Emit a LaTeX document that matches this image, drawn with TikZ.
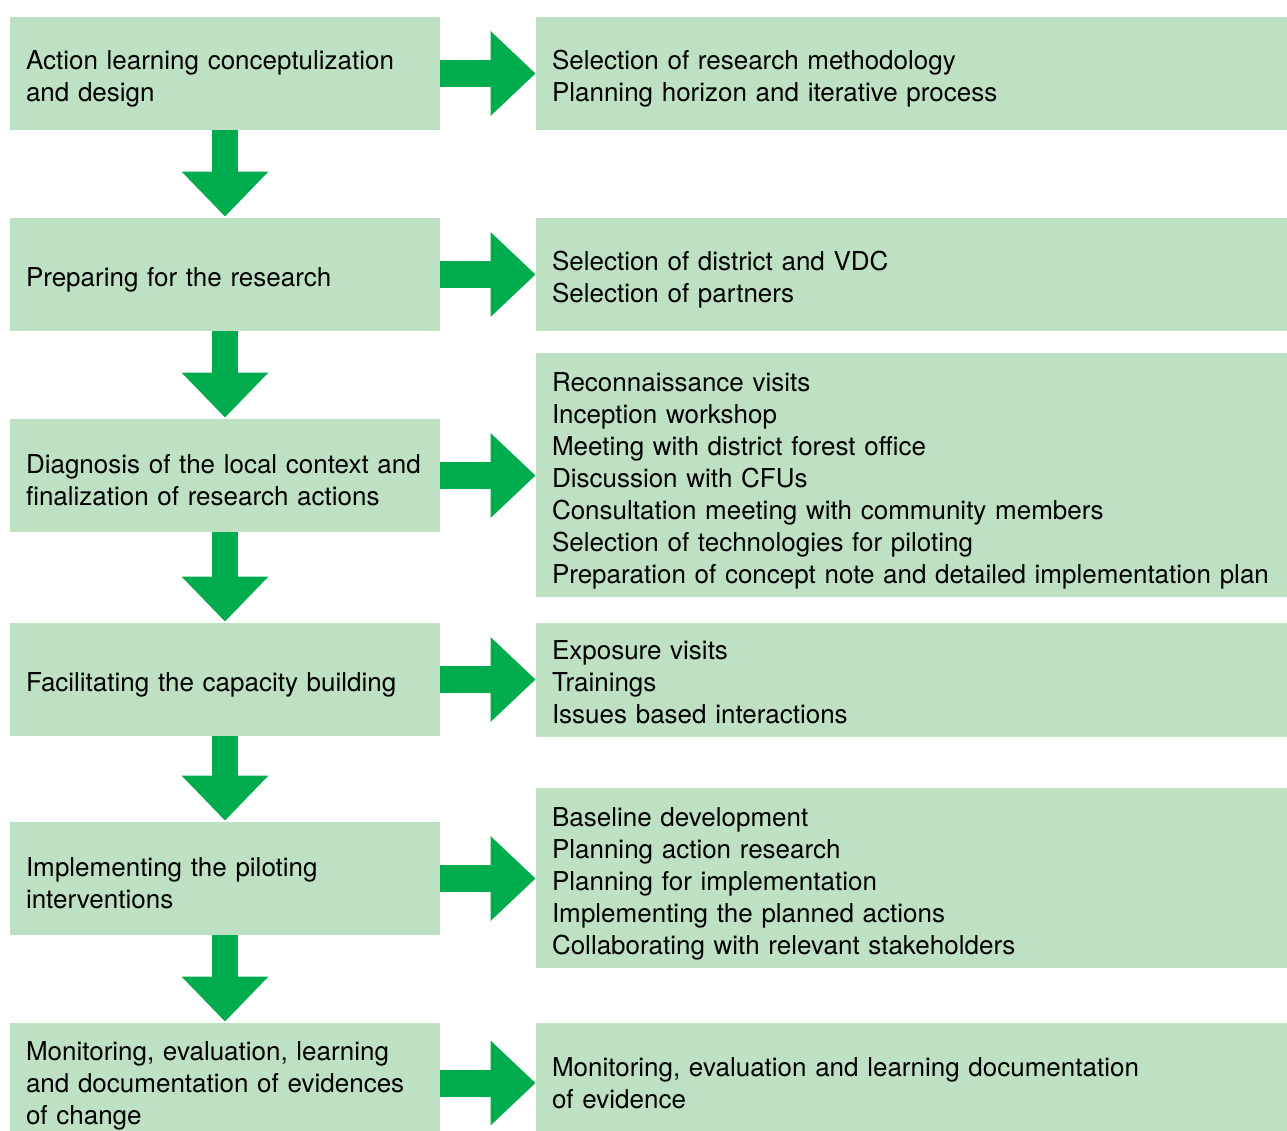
\documentclass[tikz,border=0pt]{standalone}
\usepackage{fontspec}
\setmainfont{TeX Gyre Heros}
\usetikzlibrary{arrows.meta}
\definecolor{boxgreen}{RGB}{190,224,195}
\definecolor{arrgreen}{RGB}{0,172,78}
\tikzset{
  lbox/.style={fill=boxgreen, draw=none, inner sep=0pt, minimum width=215pt},
  rbox/.style={fill=boxgreen, draw=none, inner sep=0pt, minimum width=375.5pt},
  ltext/.style={inner sep=0pt, text width=199pt, align=left,
    font=\fontsize{13pt}{16pt}\selectfont},
  rtext/.style={inner sep=0pt, text width=359.5pt, align=left,
    font=\fontsize{13pt}{16pt}\selectfont},
  rarrow/.style={draw=arrgreen, line width=13.5pt, line cap=butt,
    -{Triangle[width=41pt,length=22.5pt]}},
  darrow/.style={draw=arrgreen, line width=13pt, line cap=butt,
    -{Triangle[width=42pt,length=22.5pt]}},
}
\begin{document}
\begin{tikzpicture}[x=0.5pt,y=-0.5pt]
\useasboundingbox (0,0) rectangle (1287,1131);
\begin{scope}
\clip (0,0) rectangle (1287,1131);
% left boxes
\node[lbox, minimum height=56.5pt] (L1) at (225,73.5) {};
\node[lbox, minimum height=56.5pt] (L2) at (225,274.5) {};
\node[lbox, minimum height=56.5pt] (L3) at (225,475.5) {};
\node[lbox, minimum height=56.5pt] (L4) at (225,679.5) {};
\node[lbox, minimum height=56.5pt] (L5) at (225,878.5) {};
\node[lbox, minimum height=60pt] (L6) at (225,1083) {};
% right boxes
\node[rbox, minimum height=56.5pt] (R1) at (911.5,73.5) {};
\node[rbox, minimum height=56.5pt] (R2) at (911.5,274.5) {};
\node[rbox, minimum height=122pt] (R3) at (911.5,475) {};
\node[rbox, minimum height=57pt] (R4) at (911.5,680) {};
\node[rbox, minimum height=90pt] (R5) at (911.5,878) {};
\node[rbox, minimum height=60pt] (R6) at (911.5,1083) {};
\end{scope}
% texts
\node[ltext] (tL1) at ([yshift=-2.5pt]L1.center) {Action learning conceptulization\\and design};
\node[ltext] (tL2) at ([yshift=-2.5pt]L2.center) {Preparing for the research};
\node[ltext] (tL3) at ([yshift=-2.5pt]L3.center) {Diagnosis of the local context and\\finalization of research actions};
\node[ltext] (tL4) at ([yshift=-2.5pt]L4.center) {Facilitating the capacity building};
\node[ltext] (tL5) at ([yshift=-2.5pt]L5.center) {Implementing the piloting\\interventions};
\node[ltext] (tL6) at ([yshift=-1.5pt]L6.center) {Monitoring, evaluation, learning\\and documentation of evidences\\of change};
\node[rtext] (tR1) at ([yshift=-2.5pt]R1.center) {Selection of research methodology\\Planning horizon and iterative process};
\node[rtext] (tR2) at ([yshift=-2.5pt]R2.center) {Selection of district and VDC\\Selection of partners};
\node[rtext] (tR3) at ([yshift=-3pt]R3.center) {Reconnaissance visits\\Inception workshop\\Meeting with district forest office\\Discussion with CFUs\\Consultation meeting with community members\\Selection of technologies for piloting\\Preparation of concept note and detailed implementation plan};
\node[rtext] (tR4) at ([yshift=-1pt]R4.center) {Exposure visits\\Trainings\\Issues based interactions};
\node[rtext] (tR5) at ([yshift=-3pt]R5.center) {Baseline development\\Planning action research\\Planning for implementation\\Implementing the planned actions\\Collaborating with relevant stakeholders};
\node[rtext] (tR6) at ([yshift=0pt]R6.center) {Monitoring, evaluation and learning documentation\\of evidence};
% right arrows
\foreach \i in {1,...,6}{
  \draw[rarrow] (L\i.east) -- (R\i.west |- L\i.east);
}
% down arrows
\foreach \i/\j in {1/2,2/3,3/4,4/5,5/6}{
  \draw[darrow] (L\i.south) -- ([yshift=0.5pt]L\j.north);
}
\end{tikzpicture}
\end{document}
